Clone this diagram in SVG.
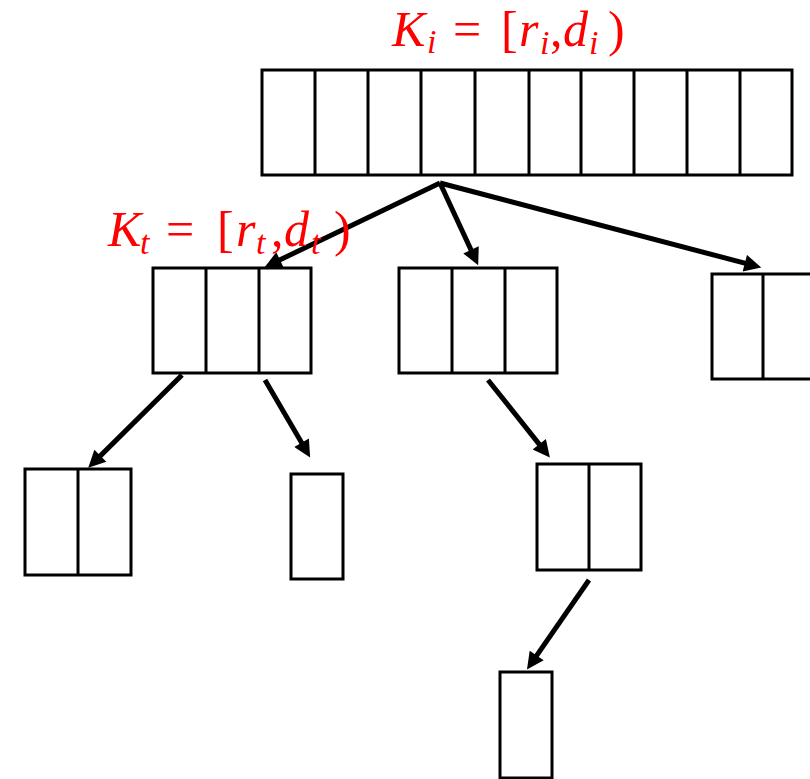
<svg xmlns="http://www.w3.org/2000/svg" width="810" height="779" viewBox="0 0 810 779">
<defs>
<style>
.box{fill:#fff;stroke:#000;stroke-width:3}
.div{stroke:#000;stroke-width:3}
.arr{stroke:#000;stroke-width:5;fill:none;marker-end:url(#ah)}
.lab{fill:#ff0000;font-family:"Liberation Serif","DejaVu Serif",serif;font-size:50px}
.it{font-style:italic}
.sub{font-style:italic;font-size:34px}
</style>
<marker id="ah" viewBox="0 0 10 10" refX="4" refY="5" markerWidth="4" markerHeight="3.4" orient="auto" markerUnits="strokeWidth">
<path d="M0,0 L10,5 L0,10 z" fill="#000"/>
</marker>
</defs>
<rect width="810" height="779" fill="#fff"/>

<g id="root">
<rect class="box" x="262" y="70" width="530" height="105"/>
<path class="div" d="M315,70V175M368,70V175M421,70V175M475,70V175M529,70V175M581,70V175M634,70V175M687,70V175M740,70V175"/>
</g>

<g id="nodeA">
<rect class="box" x="153" y="268" width="158" height="105"/>
<path class="div" d="M206,268V373M259,268V373"/>
</g>

<g id="nodeB">
<rect class="box" x="399" y="268" width="158" height="105"/>
<path class="div" d="M452,268V373M505,268V373"/>
</g>

<g id="nodeC">
<rect class="box" x="712" y="274" width="104" height="105"/>
<path class="div" d="M763,274V379"/>
</g>

<g id="nodeD">
<rect class="box" x="25" y="469" width="106" height="106"/>
<path class="div" d="M78,469V575"/>
</g>

<g id="nodeE">
<rect class="box" x="291" y="474" width="52" height="105"/>
</g>

<g id="nodeF">
<rect class="box" x="537" y="464" width="104" height="106"/>
<path class="div" d="M589,464V570"/>
</g>

<g id="nodeG">
<rect class="box" x="500" y="672" width="52" height="106"/>
</g>

<g id="connectors">
<line class="arr" x1="440" y1="183" x2="273.8" y2="262.8"/>
<line class="arr" x1="440" y1="183" x2="473.9" y2="256.1"/>
<line class="arr" x1="440" y1="183" x2="751.4" y2="264.9"/>
<line class="arr" x1="182" y1="375" x2="95.5" y2="460.6"/>
<line class="arr" x1="265" y1="380" x2="305" y2="448.6"/>
<line class="arr" x1="488" y1="380" x2="543.5" y2="449.6"/>
<line class="arr" x1="589" y1="580" x2="532.8" y2="661.1"/>
</g>

<g id="labelKi">
<text class="lab"><tspan class="it" x="392" y="46">K</tspan><tspan class="sub" x="427" y="53">i</tspan><tspan x="453" y="46">=</tspan><tspan x="501" y="46">[</tspan><tspan class="it" x="519" y="46">r</tspan><tspan class="sub" x="540" y="54">i</tspan><tspan x="550" y="46">,</tspan><tspan class="it" x="563" y="46">d</tspan><tspan class="sub" x="589" y="54">i</tspan><tspan x="608" y="46">)</tspan></text>
</g>

<g id="labelKt">
<text class="lab"><tspan class="it" x="108" y="246">K</tspan><tspan class="sub" x="140" y="254">t</tspan><tspan x="166" y="246">=</tspan><tspan x="217" y="246">[</tspan><tspan class="it" x="236" y="246">r</tspan><tspan class="sub" x="256" y="254">t</tspan><tspan x="271" y="246">,</tspan><tspan class="it" x="284" y="246">d</tspan><tspan class="sub" x="311" y="254">t</tspan><tspan x="334" y="246">)</tspan></text>
</g>
</svg>
